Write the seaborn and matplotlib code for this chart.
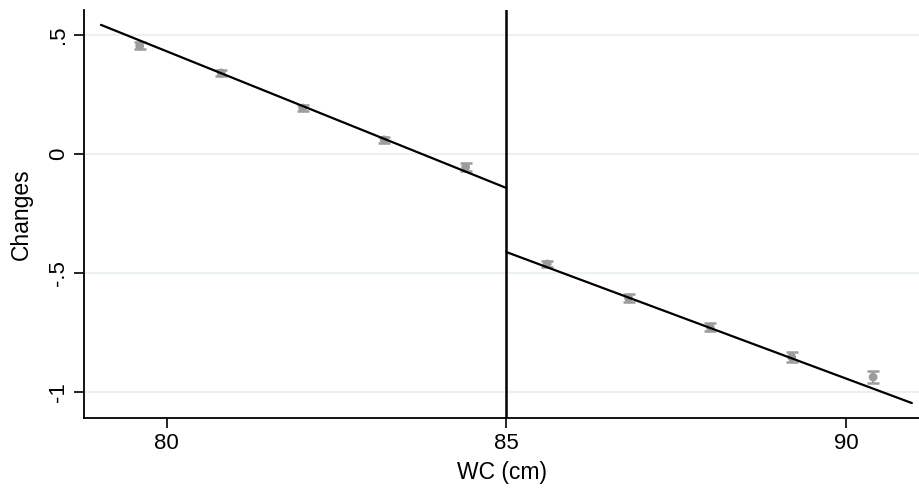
import numpy as np
import pandas as pd
import matplotlib
matplotlib.use("Agg")
import matplotlib.pyplot as plt
import seaborn as sns

# Binned means (left and right of the 85 cm cut-off)
wc = [79.6, 80.8, 82.0, 83.2, 84.4, 85.6, 86.8, 88.0, 89.2, 90.4]
change = [0.454, 0.340, 0.193, 0.059, -0.055, -0.462, -0.605, -0.727, -0.853, -0.937]
err = [0.015, 0.013, 0.012, 0.013, 0.015, 0.013, 0.016, 0.016, 0.02, 0.025]

# Fitted lines (endpoints)
fit_left_x = [79.03, 85.0]
fit_left_y = [0.542, -0.143]
fit_right_x = [85.0, 90.97]
fit_right_y = [-0.412, -1.046]

cutoff = 85
xticks = [80, 85, 90]
yticks = [0.5, 0.0, -0.5, -1.0]
yticklabels = [".5", "0", "-.5", "-1"]

sns.set_theme(style="white")
plt.rcParams["font.family"] = ["Liberation Sans", "DejaVu Sans"]

fig = plt.figure(figsize=(9.2, 4.93), dpi=100)
ax = fig.add_axes([0.0913, 0.152, 0.9087, 0.828])

for y in yticks:
    ax.axhline(y, color="#e8f1f3", lw=1.5, zorder=0)

df = pd.DataFrame({"wc": wc, "change": change, "err": err})
ax.errorbar(df["wc"], df["change"], yerr=df["err"], fmt="none",
            ecolor="#9c9c9c", elinewidth=1.4, capsize=4.5, capthick=1.8, zorder=2)
sns.scatterplot(data=df, x="wc", y="change", ax=ax, color="#9c9c9c",
                s=40, edgecolor="none", zorder=3)

left = pd.DataFrame({"x": fit_left_x, "y": fit_left_y})
right = pd.DataFrame({"x": fit_right_x, "y": fit_right_y})
sns.lineplot(data=left, x="x", y="y", ax=ax, color="black", lw=1.6, zorder=4)
sns.lineplot(data=right, x="x", y="y", ax=ax, color="black", lw=1.6, zorder=4)
ax.axvline(cutoff, color="black", lw=1.8, zorder=5)

ax.set_xlim(78.78, 91.09)
ax.set_ylim(-1.109, 0.605)
ax.set_xticks(xticks)
ax.set_xticklabels([str(t) for t in xticks])
ax.set_yticks(yticks)
ax.set_yticklabels(yticklabels, rotation=90, va="center")

for s in ["top", "right"]:
    ax.spines[s].set_visible(False)
for s in ["left", "bottom"]:
    ax.spines[s].set_color("black")
    ax.spines[s].set_linewidth(1.3)

ax.tick_params(axis="both", which="major", direction="out", length=7,
               width=1.2, color="black", labelsize=16, labelcolor="black",
               left=True, bottom=True, pad=4)
ax.set_xlabel("WC (cm)", fontsize=16.5, color="black", labelpad=5)
ax.set_ylabel("Changes", fontsize=16.5, color="black", labelpad=11)

fig.savefig("out.png", dpi=100)
